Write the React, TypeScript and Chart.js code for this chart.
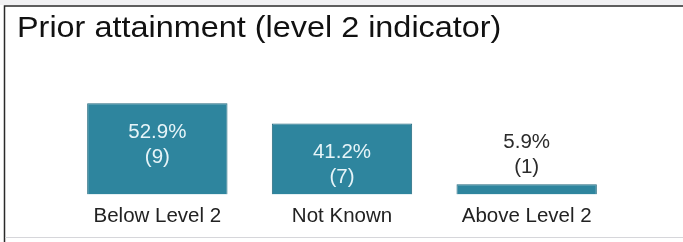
import React, { useEffect, useRef } from "react";
import { Chart, registerables } from "chart.js";

Chart.register(...registerables);

const TITLE = "Prior attainment (level 2 indicator)";
const categories = ["Below Level 2", "Not Known", "Above Level 2"];
const percentValues = [52.9, 41.2, 5.9];
const countValues = [9, 7, 1];
const Y_MAX = 60;

const FONT = "'Liberation Sans', Arial, sans-serif";
const BAR_COLOR = "#2E859E";
const BAR_BORDER = "#23697e";

const framePlugin = {
  id: "frame",
  beforeDraw(chart: any) {
    const ctx = chart.ctx;
    const w = chart.width;
    const h = chart.height;
    ctx.save();
    ctx.fillStyle = "#ffffff";
    ctx.fillRect(0, 0, w, h);
    ctx.fillStyle = "#f1f1f3";
    ctx.fillRect(0, 0, w, 5);
    ctx.strokeStyle = "#2a2a2a";
    ctx.lineWidth = 1.5;
    ctx.beginPath();
    ctx.moveTo(4.5, h);
    ctx.lineTo(4.5, 6);
    ctx.lineTo(w, 6);
    ctx.stroke();
    ctx.strokeStyle = "#d6d6da";
    ctx.lineWidth = 1;
    ctx.beginPath();
    ctx.moveTo(5, 237.5);
    ctx.lineTo(w, 237.5);
    ctx.stroke();
    ctx.fillStyle = "#111111";
    ctx.font = `30px ${FONT}`;
    ctx.textAlign = "left";
    ctx.textBaseline = "alphabetic";
    ctx.translate(17, 37);
    ctx.scale(1.08, 1);
    ctx.fillText(TITLE, 0, 0);
    ctx.restore();
  },
};

const labelPlugin = {
  id: "barLabels",
  afterDatasetsDraw(chart: any) {
    const ctx = chart.ctx;
    const meta = chart.getDatasetMeta(0);
    ctx.save();
    ctx.font = `20.5px ${FONT}`;
    ctx.textAlign = "center";
    ctx.textBaseline = "middle";
    meta.data.forEach((bar: any, i: number) => {
      const top = bar.y;
      const height = bar.base - bar.y;
      const l1 = percentValues[i].toFixed(1) + "%";
      const l2 = "(" + countValues[i] + ")";
      if (height > 50) {
        ctx.fillStyle = "#e6f4f8";
        ctx.fillText(l1, bar.x, top + 29);
        ctx.fillText(l2, bar.x, top + 54);
      } else {
        ctx.fillStyle = "#2b2b2b";
        ctx.fillText(l1, bar.x, top - 42);
        ctx.fillText(l2, bar.x, top - 17);
      }
    });
    ctx.restore();
  },
};

export default function App() {
  const ref = useRef<HTMLCanvasElement | null>(null);
  useEffect(() => {
    if (!ref.current) return;
    const chart = new Chart(ref.current, {
      type: "bar",
      data: {
        labels: categories,
        datasets: [
          {
            data: percentValues,
            backgroundColor: BAR_COLOR,
            borderColor: BAR_BORDER,
            borderWidth: 1,
            categoryPercentage: 1,
            barPercentage: 0.76,
          },
        ],
      },
      options: {
        responsive: false,
        animation: false,
        devicePixelRatio: 1,
        layout: { padding: { left: 65, right: 64, top: 91, bottom: 3 } },
        plugins: {
          legend: { display: false },
          title: { display: false },
          tooltip: { enabled: false },
        },
        scales: {
          x: {
            grid: { display: false, drawTicks: false },
            border: { display: false },
            ticks: {
              padding: 10,
              color: "#222222",
              font: { family: FONT, size: 20.5 },
            },
          },
          y: { display: false, min: 0, max: Y_MAX },
        },
      },
      plugins: [framePlugin, labelPlugin],
    });
    return () => chart.destroy();
  }, []);
  return (
    <div style={{ position: "absolute", left: 0, top: 0, width: 683, height: 242 }}>
      <canvas ref={ref} width={683} height={242} style={{ display: "block" }} />
    </div>
  );
}
